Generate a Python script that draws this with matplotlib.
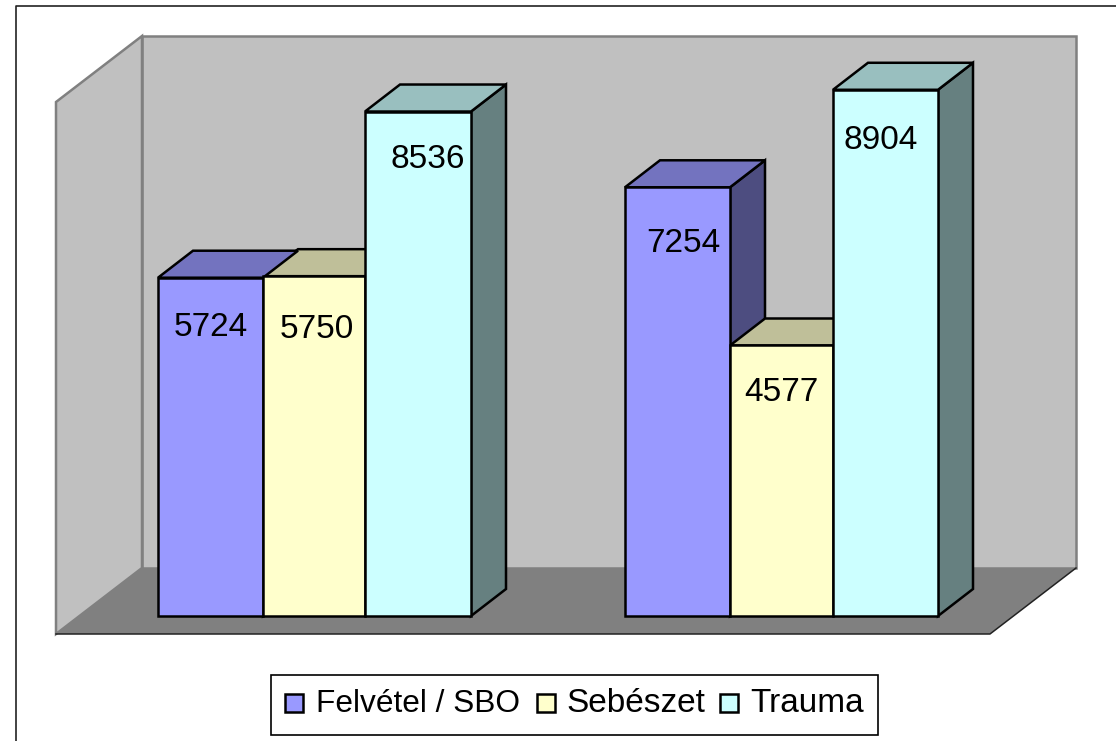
import matplotlib
matplotlib.use('Agg')
import matplotlib.pyplot as plt
from matplotlib.patches import Polygon, Rectangle

series = ['Felvétel / SBO', 'Sebészet', 'Trauma']
group1 = [5724, 5750, 8536]
group2 = [7254, 4577, 8904]

front_colors = ['#9999FF', '#FFFFCC', '#CCFFFF']
top_colors = ['#7373BF', '#BFBF99', '#99BFBF']
side_colors = ['#4D4D80', '#808066', '#668080']

W, H = 1116, 741
BASE = 616          # pixel row of value 0
PX = 0.0591         # pixels per unit
DX, DY = 35, 27     # bar depth

plt.rcParams['font.family'] = ['Liberation Sans', 'DejaVu Sans']
fig = plt.figure(figsize=(W / 100, H / 100), dpi=100)
ax = fig.add_axes([0, 0, 1, 1])
ax.set_xlim(0, W)
ax.set_ylim(-(H - BASE) / PX, BASE / PX)
ax.axis('off')


def yv(row):
    return (BASE - row) / PX


def poly(points, color, edge='black', lw=1.8, z=2):
    pts = [(x, yv(r)) for x, r in points]
    ax.add_patch(Polygon(pts, closed=True, facecolor=color, edgecolor=edge,
                         linewidth=lw, zorder=z, joinstyle='miter'))


# frame: only the left and top edges fall inside the picture
ax.plot([15.5, 15.5, W + 5], [yv(H + 5), yv(6.5), yv(6.5)], color='#222222',
        linewidth=1.2, zorder=0)

# walls and floor
poly([(142, 36), (1076, 36), (1076, 568), (142, 568)], '#C0C0C0', '#808080', 1.8, 1)
poly([(56, 102), (142, 36), (142, 568), (56, 634)], '#C0C0C0', '#808080', 1.8, 1)
poly([(56, 634), (142, 568), (1076, 568), (990, 634)], '#808080', 'none', 0, 1)
ax.plot([56, 990, 1076], [yv(634), yv(634), yv(568)], color='#222222', linewidth=1.1, zorder=1)


def side(x1, v, i, z):
    top = BASE - v * PX
    poly([(x1, top), (x1 + DX, top - DY), (x1 + DX, BASE - DY), (x1, BASE)], side_colors[i], z=z)


def cap(x0, x1, v, i, z):
    top = BASE - v * PX
    poly([(x0, top), (x1, top), (x1 + DX, top - DY), (x0 + DX, top - DY)], top_colors[i], z=z)


def front(x0, x1, v, i, z):
    ax.bar(x0, v, width=x1 - x0, align='edge', color=front_colors[i],
           edgecolor='black', linewidth=1.8, zorder=z)


def group(values, edges, labels_x, labels_dy):
    side(edges[1], values[0], 0, 2)
    cap(edges[1], edges[2], values[1], 1, 3)
    cap(edges[0], edges[1], values[0], 0, 4)
    front(edges[0], edges[1], values[0], 0, 5)
    front(edges[1], edges[2], values[1], 1, 6)
    side(edges[3], values[2], 2, 7)
    cap(edges[2], edges[3], values[2], 2, 8)
    front(edges[2], edges[3], values[2], 2, 9)
    for v, lx, d in zip(values, labels_x, labels_dy):
        ax.text(lx, yv(BASE - v * PX + d), str(v), fontsize=24, ha='center',
                va='center', color='black', zorder=12)


group(group1, [158, 263, 365, 471], [210.5, 316.5, 427.5], [50, 53, 48])
group(group2, [625, 730, 833, 938], [683.5, 781, 880.5], [56, 47, 51])

# legend
ax.add_patch(Rectangle((271, yv(735)), 607, 60 / PX, facecolor='white',
                       edgecolor='black', linewidth=1.2, zorder=10))
swatches = [285, 537, 720]
texts = [316, 566, 750]
legend_sizes = [22.8, 24, 24]
for sx, tx, name, c, fs in zip(swatches, texts, series, front_colors, legend_sizes):
    ax.add_patch(Rectangle((sx, yv(712)), 18, 18 / PX, facecolor=c,
                           edgecolor='black', linewidth=1.8, zorder=11))
    ax.text(tx, yv(704), name, fontsize=fs, ha='left', va='center', zorder=12)

fig.savefig('out.png', dpi=100)
